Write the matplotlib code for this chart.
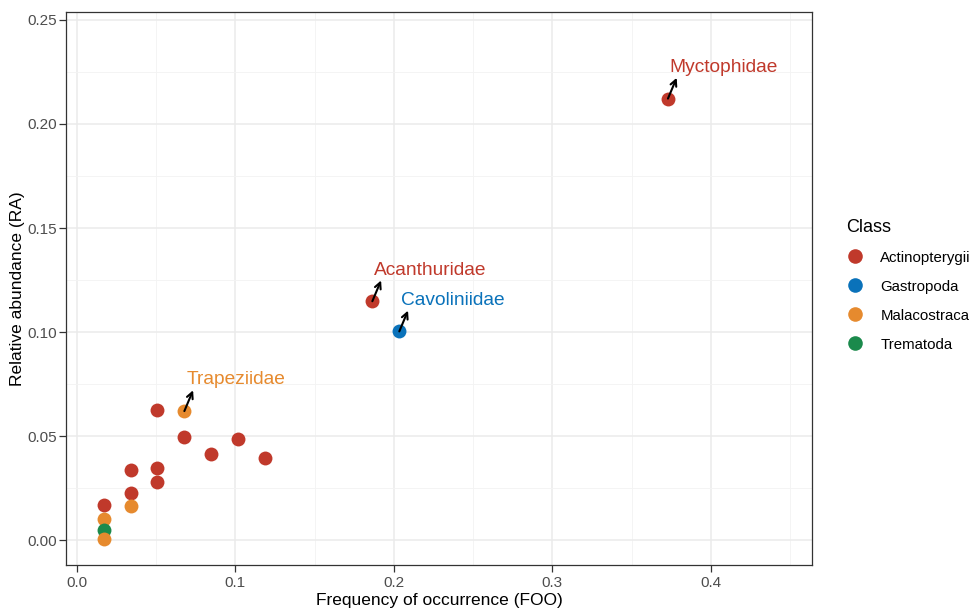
import matplotlib
matplotlib.use("Agg")
import matplotlib.pyplot as plt
from matplotlib.lines import Line2D

plt.rcParams['font.family'] = ['Liberation Sans', 'DejaVu Sans']

classes = ["Actinopterygii", "Gastropoda", "Malacostraca", "Trematoda"]
class_colors = {"Actinopterygii": "#C0392B", "Gastropoda": "#0A72BA",
                "Malacostraca": "#E68A2E", "Trematoda": "#1B8A4C"}

foo = [0.3729, 0.1864, 0.2034, 0.0678, 0.0508, 0.0678, 0.0847, 0.1017, 0.1186,
       0.0339, 0.0508, 0.0508, 0.0339, 0.0339, 0.0169, 0.0169, 0.0169, 0.0169]
ra = [0.2122, 0.1148, 0.1003, 0.0620, 0.0627, 0.0497, 0.0412, 0.0488, 0.0396,
      0.0336, 0.0346, 0.0278, 0.0228, 0.0162, 0.0168, 0.0101, 0.0048, 0.0003]
cls = ["Actinopterygii", "Actinopterygii", "Gastropoda", "Malacostraca",
       "Actinopterygii", "Actinopterygii", "Actinopterygii", "Actinopterygii",
       "Actinopterygii", "Actinopterygii", "Actinopterygii", "Actinopterygii",
       "Actinopterygii", "Malacostraca", "Actinopterygii", "Malacostraca",
       "Trematoda", "Malacostraca"]
labels = ["Myctophidae", "Acanthuridae", "Cavoliniidae", "Trapeziidae"] + [""] * 14

xticks = [0.0, 0.1, 0.2, 0.3, 0.4]
xticklabels = ["0.0", "0.1", "0.2", "0.3", "0.4"]
yticks = [0.00, 0.05, 0.10, 0.15, 0.20, 0.25]
yticklabels = ["0.00", "0.05", "0.10", "0.15", "0.20", "0.25"]

fig = plt.figure(figsize=(9.7, 6.09), dpi=100)
ax = fig.add_axes([0.068, 0.0722, 0.769, 0.908])

for x, y, c in zip(foo, ra, cls):
    ax.scatter(x, y, s=100, color=class_colors[c], zorder=3, linewidths=0)

for x, y, c, lab in zip(foo, ra, cls, labels):
    if lab:
        # arrow from point up-right toward the label
        ax.annotate("", xy=(x + 0.0055, y + 0.0100), xytext=(x, y),
                    arrowprops=dict(arrowstyle="->", color="black", lw=1.5,
                                    shrinkA=0, shrinkB=0, mutation_scale=11),
                    zorder=4)
        ax.text(x + 0.0012, y + 0.0150, lab, fontsize=13.8,
                color=class_colors[c], ha="left", va="center", zorder=4)

ax.set_xlim(-0.0069, 0.4637)
ax.set_ylim(-0.012, 0.2538)
ax.set_xticks(xticks)
ax.set_xticklabels(xticklabels)
ax.set_yticks(yticks)
ax.set_yticklabels(yticklabels)
ax.set_xticks([0.05, 0.15, 0.25, 0.35, 0.45], minor=True)
ax.set_yticks([0.025, 0.075, 0.125, 0.175, 0.225], minor=True)
ax.grid(which="major", color="#EBEBEB", lw=1.1, zorder=0)
ax.grid(which="minor", color="#F3F3F3", lw=0.6, zorder=0)
ax.tick_params(which="minor", length=0)
ax.tick_params(which="major", length=5, color="#333333", labelsize=11,
               labelcolor="#4D4D4D", width=0.9)
ax.tick_params(axis="y", pad=1.5)
ax.tick_params(axis="x", pad=3)
for sp in ax.spines.values():
    sp.set_color("#333333")
    sp.set_linewidth(0.9)
ax.set_axisbelow(True)

ax.set_xlabel("Frequency of occurrence (FOO)", fontsize=12.5, labelpad=2)
ax.set_ylabel("Relative abundance (RA)", fontsize=12.5, labelpad=2)

handles = [Line2D([0], [0], marker="o", linestyle="", markersize=10.5,
                  markerfacecolor=class_colors[c], markeredgewidth=0, label=c)
           for c in classes]
leg = fig.legend(handles=handles, title="Class", loc="upper left",
                 bbox_to_anchor=(0.858, 0.663), frameon=False, fontsize=10.8,
                 title_fontsize=13, labelspacing=1.0, handletextpad=1.1,
                 alignment="left", handlelength=1.2)

fig.savefig("out.png", dpi=100)
